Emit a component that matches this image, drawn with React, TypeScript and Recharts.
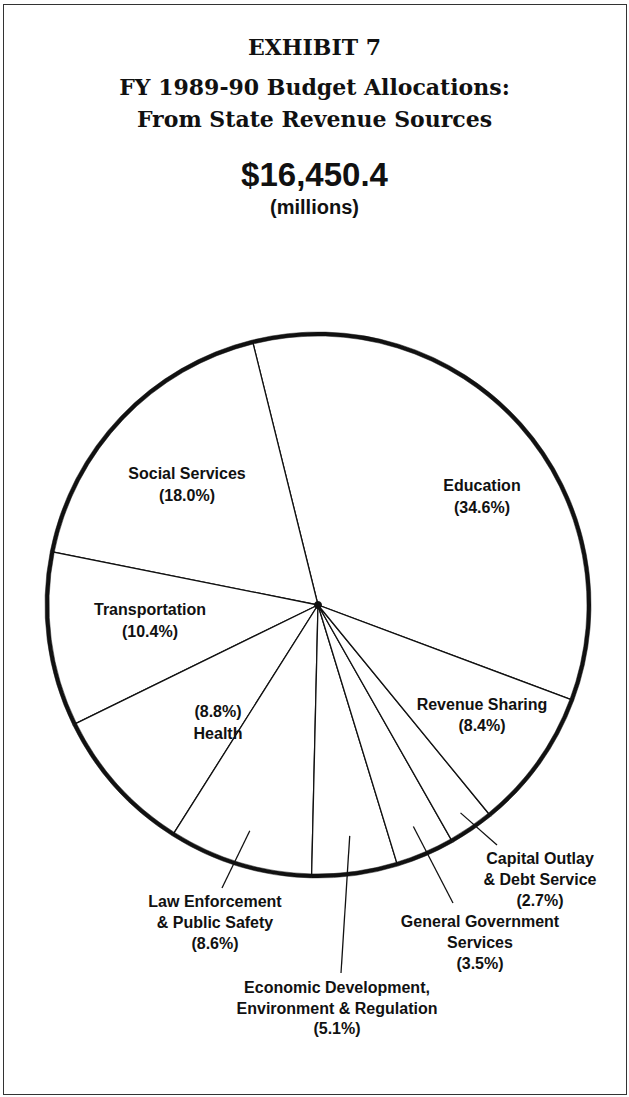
import { PieChart, Pie } from "recharts";

// FY 1989-90 budget allocations, state revenue sources ($16,450.4 millions)
const categories = [
  "Education",
  "Social Services",
  "Transportation",
  "Health",
  "Law Enforcement & Public Safety",
  "Economic Development, Environment & Regulation",
  "General Government Services",
  "Capital Outlay & Debt Service",
  "Revenue Sharing",
];
const shares = [34.6, 18.0, 10.4, 8.8, 8.6, 5.1, 3.5, 2.7, 8.4];
const labelLines = [
  ["Education"],
  ["Social Services"],
  ["Transportation"],
  ["Health"],
  ["Law Enforcement", "& Public Safety"],
  ["Economic Development,", "Environment & Regulation"],
  ["General Government", "Services"],
  ["Capital Outlay", "& Debt Service"],
  ["Revenue Sharing"],
];
const hub = [{ name: "hub", value: 1 }];

const slices = categories.map((name, i) => ({ name, value: shares[i] }));

const CX = 313;
const CY = 600;
const R = 271;
const INK = "#111";
const SANS = "'Liberation Sans', Arial, sans-serif";

// label placement relative to the pie centre; lead = leader line start (fraction of radius)
const spots = [
  { x: 164, y: -120, gap: 22 },
  { x: -131, y: -132, gap: 22 },
  { x: -168, y: 4, gap: 22 },
  { x: -100, y: 106, gap: 22, pctFirst: true },
  { x: -103, y: 296, gap: 21, lead: 0.87, lx: -96, ly: 283 },
  { x: 19, y: 382, gap: 20.5, lead: 0.86, lx: 23, ly: 368 },
  { x: 162, y: 316, gap: 21, lead: 0.89, lx: 135, ly: 298 },
  { x: 222, y: 253, gap: 21, lead: 0.93, lx: 179, ly: 240 },
  { x: 164, y: 99, gap: 21 },
];

const renderLabel = (props: any) => {
  const { cx, cy, midAngle, outerRadius, index } = props;
  const s: any = spots[index];
  const pct = `(${shares[index].toFixed(1)}%)`;
  const lines = s.pctFirst ? [pct, ...labelLines[index]] : [...labelLines[index], pct];
  const rad = Math.PI / 180;
  let lead = null;
  if (s.lead) {
    const r0 = outerRadius * s.lead;
    lead = (
      <line
        x1={cx + r0 * Math.cos(-midAngle * rad)}
        y1={cy + r0 * Math.sin(-midAngle * rad)}
        x2={cx + s.lx}
        y2={cy + s.ly}
        stroke={INK}
        strokeWidth={1.3}
      />
    );
  }
  return (
    <g key={`lbl-${index}`}>
      {lead}
      <text
        textAnchor="middle"
        dominantBaseline="central"
        fill={INK}
        style={{ fontFamily: SANS, fontWeight: 700, fontSize: 16 }}
      >
        {lines.map((l, i) => (
          <tspan key={i} x={cx + s.x} y={cy + s.y + i * s.gap}>
            {l}
          </tspan>
        ))}
      </text>
    </g>
  );
};

export default function App() {
  return (
    <div
      style={{
        position: "absolute",
        left: 0,
        top: 0,
        width: 629,
        height: 1097,
        background: "#fff",
        color: INK,
      }}
    >
      <div
        style={{
          position: "absolute",
          left: 3,
          top: 4,
          width: 622,
          height: 1089,
          border: "1.5px solid #333",
        }}
      />
      <div
        style={{
          position: "absolute",
          top: 0,
          left: 0,
          width: 629,
          textAlign: "center",
          fontFamily: "'DejaVu Serif', serif",
          fontWeight: 700,
        }}
      >
        <div style={{ position: "absolute", top: 34, width: 629, fontSize: 22, lineHeight: "26px" }}>
          EXHIBIT 7
        </div>
        <div style={{ position: "absolute", top: 74, width: 629, fontSize: 22, lineHeight: "26px" }}>
          FY 1989-90 Budget Allocations:
        </div>
        <div style={{ position: "absolute", top: 106, width: 629, fontSize: 22, lineHeight: "26px" }}>
          From State Revenue Sources
        </div>
        <div
          style={{
            position: "absolute",
            top: 155,
            width: 629,
            fontSize: 33,
            lineHeight: "40px",
            fontFamily: SANS,
          }}
        >
          $16,450.4
        </div>
        <div
          style={{
            position: "absolute",
            top: 195,
            width: 629,
            fontSize: 20,
            lineHeight: "24px",
            fontFamily: SANS,
          }}
        >
          (millions)
        </div>
      </div>
      <div style={{ position: "absolute", left: 0, top: 0 }}>
        <PieChart width={629} height={1097}>
          <Pie
            data={slices}
            dataKey="value"
            nameKey="name"
            cx={CX}
            cy={CY}
            outerRadius={R}
            startAngle={-20.5}
            endAngle={339.5}
            fill="#fff"
            stroke={INK}
            strokeWidth={1.3}
            label={renderLabel}
            labelLine={false}
            isAnimationActive={false}
          />
          <Pie
            data={slices}
            dataKey="value"
            cx={CX}
            cy={CY}
            innerRadius={R - 2}
            outerRadius={R + 2}
            startAngle={-20.5}
            endAngle={339.5}
            fill={INK}
            stroke={INK}
            strokeWidth={0.5}
            isAnimationActive={false}
          />
          <Pie
            data={hub}
            dataKey="value"
            cx={CX}
            cy={CY}
            outerRadius={4}
            fill={INK}
            stroke="none"
            isAnimationActive={false}
          />
        </PieChart>
      </div>
    </div>
  );
}
